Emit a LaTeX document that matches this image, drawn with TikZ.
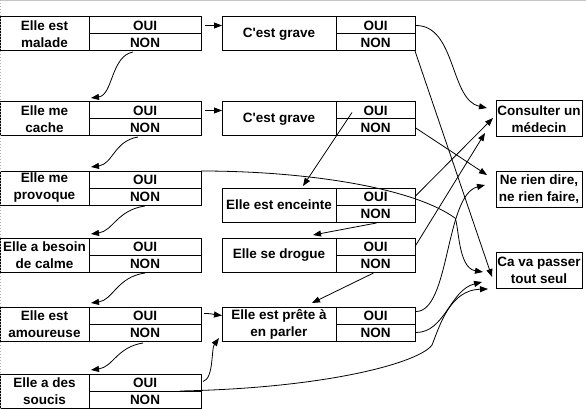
\documentclass[tikz,border=0pt]{standalone}
\usepackage{fontspec}
\setmainfont{Liberation Sans}
\usetikzlibrary{arrows.meta}

\begin{document}
\begin{tikzpicture}[x=1pt,y=1pt,
  box/.style={draw,line width=1pt,anchor=north west,inner sep=0pt,outer sep=0pt,
    align=center,font=\bfseries\fontsize{13.5}{17}\selectfont},
  qlabel/.style={box,minimum width=89pt,minimum height=34pt},
  qcell/.style={box,minimum width=112pt,minimum height=17pt},
  mlabel/.style={box,minimum width=114pt,minimum height=34pt},
  mcell/.style={box,minimum width=79pt,minimum height=17pt},
  answer/.style={box,minimum width=86pt,minimum height=36pt},
  link/.style={line width=0.8pt,-{Triangle[length=8pt,width=6pt]}}, ]

  \useasboundingbox (0,0) rectangle (586,-409);
  \clip (0,0) rectangle (586,-409);

  % questions de gauche
  \node[qlabel] (malade) at (0,-17) {Elle est\\malade};
  \node[qcell] (malade-oui) at (89,-17) {OUI};
  \node[qcell] (malade-non) at (89,-34) {NON};

  \node[qlabel] (cache) at (0,-102) {Elle me\\cache};
  \node[qcell] (cache-oui) at (89,-102) {OUI};
  \node[qcell] (cache-non) at (89,-119) {NON};

  \node[qlabel] (provoque) at (0,-171) {Elle me\\provoque};
  \node[qcell] (provoque-oui) at (89,-171) {OUI};
  \node[qcell] (provoque-non) at (89,-188) {NON};

  \node[qlabel] (calme) at (0,-238) {Elle a besoin\\de calme};
  \node[qcell] (calme-oui) at (89,-238) {OUI};
  \node[qcell] (calme-non) at (89,-255) {NON};

  \node[qlabel] (amoureuse) at (0,-307) {Elle est\\amoureuse};
  \node[qcell] (amoureuse-oui) at (89,-307) {OUI};
  \node[qcell] (amoureuse-non) at (89,-324) {NON};

  \node[qlabel] (soucis) at (0,-374) {Elle a des\\soucis};
  \node[qcell] (soucis-oui) at (89,-374) {OUI};
  \node[qcell] (soucis-non) at (89,-391) {NON};

  % questions du milieu
  \node[mlabel] (grave1) at (222,-17) {C\textquotesingle est grave};
  \node[mcell] (grave1-oui) at (336,-17) {OUI};
  \node[mcell] (grave1-non) at (336,-34) {NON};

  \node[mlabel] (grave2) at (222,-102) {C\textquotesingle est grave};
  \node[mcell] (grave2-oui) at (336,-102) {OUI};
  \node[mcell] (grave2-non) at (336,-119) {NON};

  \node[mlabel] (enceinte) at (222,-188) {Elle est enceinte};
  \node[mcell] (enceinte-oui) at (336,-188) {OUI};
  \node[mcell] (enceinte-non) at (336,-205) {NON};

  \node[mlabel] (drogue) at (222,-238) {Elle se drogue};
  \node[mcell] (drogue-oui) at (336,-238) {OUI};
  \node[mcell] (drogue-non) at (336,-255) {NON};

  \node[mlabel] (prete) at (222,-307) {Elle est pr\^ete \`a\\en parler};
  \node[mcell] (prete-oui) at (336,-307) {OUI};
  \node[mcell] (prete-non) at (336,-324) {NON};

  % reponses
  \node[answer] (consult) at (496,-101) {Consulter un\\m\'edecin};
  \node[answer] (nerien) at (496,-171) {Ne rien dire,\\ne rien faire,};
  \node[answer] (passer) at (496,-252) {Ca va passer\\tout seul};

  % NON -> question suivante
  \draw[link] ([xshift=-12pt,yshift=-1pt]malade-non.south) .. controls +(-22,-4) and +(22,3) .. ([xshift=2pt,yshift=4pt]cache.north east);
  \draw[link] ([xshift=-7pt,yshift=-1pt]cache-non.south) .. controls +(-24,-4) and +(22,3) .. ([xshift=2pt,yshift=4pt]provoque.north east);
  \draw[link] ([yshift=-1pt]provoque-non.south) .. controls +(-28,-4) and +(22,3) .. ([xshift=2pt,yshift=4pt]calme.north east);
  \draw[link] ([yshift=-1pt]calme-non.south) .. controls +(-28,-4) and +(22,3) .. ([xshift=2pt,yshift=4pt]amoureuse.north east);
  \draw[link] ([xshift=-2pt,yshift=-2pt]amoureuse-non.south) .. controls +(-26,-4) and +(22,3) .. ([xshift=2pt,yshift=4pt]soucis.north east);

  % OUI -> milieu
  \draw[link] ([xshift=4pt]malade-oui.east) -- (malade-oui.east -| grave1.west);
  \draw[link] ([xshift=4pt]cache-oui.east) -- (cache-oui.east -| grave2.west);
  \draw[link] ([xshift=3pt,yshift=2pt]amoureuse-oui.east) .. controls +(8,0) and +(-8,1) .. (amoureuse-oui.east -| prete.west);
  \draw[link] ([xshift=2pt,yshift=1pt]soucis-oui.east) .. controls +(11,3) and +(-8,-11) .. ([xshift=-3pt,yshift=3pt]prete.south west);

  % milieu
  \draw[link] ([xshift=16pt,yshift=-2pt]grave2-oui.west) -- ([xshift=24pt,yshift=2pt]enceinte.north);
  \draw[link] ([xshift=1pt,yshift=-1pt]enceinte-non.south) -- ([xshift=34pt,yshift=3pt]drogue.north);
  \draw[link] ([xshift=-2pt,yshift=-1pt]drogue-non.south) -- ([xshift=33pt,yshift=4pt]prete.north);

  % vers les reponses
  \draw[link] ([xshift=1pt]grave1-oui.east) .. controls +(40,0) and +(-37,8) .. ([xshift=-9pt,yshift=11pt]consult.west);
  \draw[link] (grave1-non.south east) -- ([xshift=-4pt,yshift=-7pt]passer.west);
  \draw[link] (grave2-non.east) -- ([xshift=-9pt,yshift=14pt]nerien.west);
  \draw[link] (enceinte-oui.east) -- ([xshift=-3pt,yshift=1pt]consult.west);
  \draw[link] (drogue-oui.east) -- ([xshift=-11pt,yshift=-14pt]consult.west);
  \draw[link] (provoque-oui.north east) .. controls +(99,0) and +(-45,32) .. ++(254,-47)
    .. controls +(4,-8) and +(-25,4) .. ([xshift=-13pt,yshift=-2pt]passer.west);
  \draw[link] ([xshift=1pt,yshift=4pt]prete-oui.east) .. controls +(34,0) and +(-40,-10) .. ([xshift=-11pt,yshift=4pt]nerien.west);
  \draw[link] ([xshift=1pt]prete-non.east) .. controls +(29,0) and +(-32,-8) .. ([xshift=-14pt,yshift=-12pt]passer.west);
  \draw[link] ([xshift=35pt]soucis-non.north) .. controls +(150,3) and +(-12,-17) .. ++(252,46)
    .. controls +(8,20) and +(-38,-1) .. ([xshift=-8pt,yshift=-19pt]passer.west);

  % cadre
  \draw[gray!45,line width=1.5pt] (0,-0.75) -- (586,-0.75);
  \draw[gray!60,dotted,line width=1pt] (0.5,0) -- (0.5,-409);
\end{tikzpicture}
\end{document}
